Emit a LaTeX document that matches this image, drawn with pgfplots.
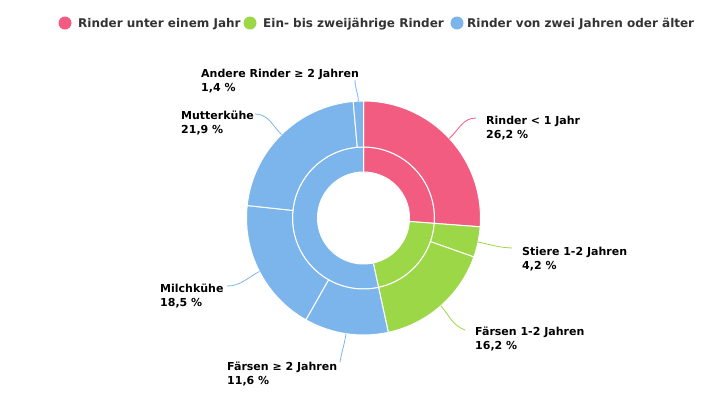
\documentclass[border=0pt]{standalone}
\usepackage{fontspec}
\setmainfont{DejaVu Sans}
\usepackage{pgfplots}
\pgfplotsset{compat=1.18}
\definecolor{cpink}{HTML}{F15C80}
\definecolor{cgreen}{HTML}{9BD746}
\definecolor{cblue}{HTML}{7CB5EC}
\definecolor{ctext}{HTML}{333333}
\newcommand{\lab}[4]{%
  \node[anchor=base west, inner sep=0pt, font=\fontsize{11bp}{14bp}\selectfont\bfseries] at (axis cs:#1,#2) {#3};
  \node[anchor=base west, inner sep=0pt, font=\fontsize{11bp}{14bp}\selectfont\bfseries] at (axis cs:#1,#2+14) {#4};}
\newcommand{\leg}[4]{%
  \fill[#3] (axis cs:#4,23) circle[radius=6.5bp];
  \node[anchor=base west, inner sep=0pt, text=ctext, font=\fontsize{12bp}{14bp}\selectfont\bfseries] at (axis cs:#1,27.5) {#2};}
\begin{document}
\begin{tikzpicture}
\begin{axis}[scale only axis, width=725bp, height=400bp,
  xmin=0, xmax=725, ymin=0, ymax=400, y dir=reverse,
  hide axis, clip=false]
\addplot[draw=none] coordinates {(0,0) (725,400)};
\pgfplotsextra{
  \def\cx{363.5}\def\cy{218}
  % inner ring: Rinder unter einem Jahr, Ein- bis zweijährige Rinder, Rinder von zwei Jahren oder älter
  \gdef\ang{90}
  \foreach \v/\c in {26.2/cpink, 20.4/cgreen, 53.4/cblue}{
    \pgfmathsetmacro{\s}{\ang}
    \pgfmathsetmacro{\e}{\ang-3.6*\v}
    \path[fill=\c, draw=white, line width=1bp] (axis cs:\cx,\cy) ++(\s:71bp)
      arc[start angle=\s, end angle=\e, radius=71bp] -- ++(\e:-25bp)
      arc[start angle=\e, end angle=\s, radius=46bp] -- cycle;
    \xdef\ang{\e}
  }
  % outer ring
  \gdef\ang{90}
  \foreach \v/\c in {26.2/cpink, 4.2/cgreen, 16.2/cgreen, 11.6/cblue, 18.5/cblue, 21.9/cblue, 1.4/cblue}{
    \pgfmathsetmacro{\s}{\ang}
    \pgfmathsetmacro{\e}{\ang-3.6*\v}
    \path[fill=\c, draw=white, line width=1bp] (axis cs:\cx,\cy) ++(\s:117bp)
      arc[start angle=\s, end angle=\e, radius=117bp] -- ++(\e:-46bp)
      arc[start angle=\e, end angle=\s, radius=71bp] -- cycle;
    \xdef\ang{\e}
  }
  % connectors
  \draw[cpink, line width=0.8bp] (axis cs:449.3,138.5) to[out=42.8, in=180] (axis cs:476,118);
  \draw[cgreen, line width=0.8bp] (axis cs:478,242) to[out=-11.9, in=178] (axis cs:512,248);
  \draw[cgreen, line width=0.8bp] (axis cs:440.8,305.8) to[out=-48.6, in=160] (axis cs:465,330);
  \draw[cblue, line width=0.8bp] (axis cs:346,333.7) to[out=-98.6, in=80] (axis cs:340,362);
  \draw[cblue, line width=0.8bp] (axis cs:259.4,271.5) to[out=-152.8, in=0] (axis cs:227,286);
  \draw[cblue, line width=0.8bp] (axis cs:281.5,134.6) to[out=134.5, in=0] (axis cs:255,114);
  \draw[cblue, line width=0.8bp] (axis cs:358.4,101.1) to[out=92.5, in=-90] (axis cs:355,80);
  % labels
  \lab{486}{124}{Rinder < 1 Jahr}{26,2 \%}
  \lab{522}{255}{Stiere 1-2 Jahren}{4,2 \%}
  \lab{475}{335}{Färsen 1-2 Jahren}{16,2 \%}
  \lab{227}{370}{Färsen ≥ 2 Jahren}{11,6 \%}
  \lab{160}{292}{Milchkühe}{18,5 \%}
  \lab{181}{119}{Mutterkühe}{21,9 \%}
  \lab{201}{77.5}{Andere Rinder ≥ 2 Jahren}{1,4 \%}
  % legend
  \leg{78}{Rinder unter einem Jahr}{cpink}{65}
  \leg{263}{Ein- bis zweijährige Rinder}{cgreen}{250}
  \leg{467}{Rinder von zwei Jahren oder älter}{cblue}{457}
}
\end{axis}
\end{tikzpicture}
\end{document}
